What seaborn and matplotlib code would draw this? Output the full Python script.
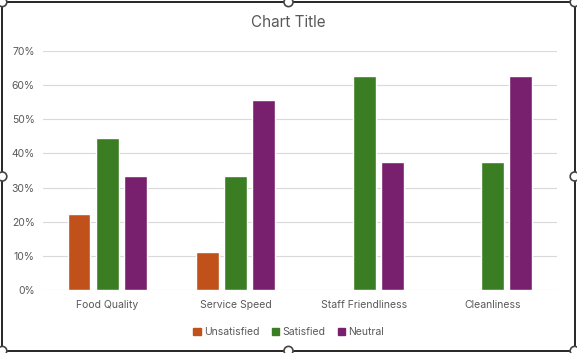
import numpy as np
import pandas as pd
import matplotlib.pyplot as plt
import seaborn as sns
from matplotlib.patches import Rectangle, Circle

categories = ['Food Quality', 'Service Speed', 'Staff Friendliness', 'Cleanliness']
unsatisfied = [0.222, 0.111, 0.0, 0.0]
satisfied = [0.444, 0.333, 0.625, 0.375]
neutral = [0.333, 0.556, 0.375, 0.625]
series = ['Unsatisfied', 'Satisfied', 'Neutral']
colors = ['#C0511A', '#3B7D23', '#78206E']

df = pd.DataFrame({
    'Category': categories * 3,
    'Series': [s for s in series for _ in categories],
    'Value': unsatisfied + satisfied + neutral,
})

sns.set_style('white')
plt.rcParams['font.family'] = ['Inter', 'DejaVu Sans']

fig = plt.figure(figsize=(5.77, 3.53), dpi=100)
ax = fig.add_axes([0.0745, 0.178, 0.8905, 0.678])

sns.barplot(data=df, x='Category', y='Value', hue='Series', palette=colors,
            width=0.66, gap=0.19, ax=ax, saturation=1, legend=False)

ax.set_ylim(0, 0.7)
ax.set_yticks(np.arange(0, 0.71, 0.1))
ax.set_yticklabels([f'{int(round(v * 100))}%' for v in np.arange(0, 0.71, 0.1)])
ax.yaxis.grid(True, color='#D9D9D9', linewidth=0.8)
ax.set_axisbelow(True)
for s in ax.spines.values():
    s.set_visible(False)
ax.tick_params(axis='both', length=0, labelsize=7.5, colors='#595959', pad=6)
ax.tick_params(axis='x', pad=7)
ax.set_xlabel('')
ax.set_ylabel('')
ax.set_xlim(-0.5, 3.5)

fig.text(0.5, 0.935, 'Chart Title', ha='center', va='center', fontsize=11, color='#595959')

handles = [Rectangle((0, 0), 1, 1, color=c) for c in colors]
fig.legend(handles, series, loc='center', bbox_to_anchor=(0.5, 0.06), ncol=3,
           frameon=False, fontsize=7.5, labelcolor='#595959', handlelength=0.7,
           handleheight=0.7, handletextpad=0.3, columnspacing=1.2)

# selection frame around the chart
fig.patches.append(Rectangle((0.004, 0.006), 0.992, 0.988, transform=fig.transFigure,
                             fill=False, edgecolor='black', linewidth=1.2))
for (hx, hy) in [(0.004, 0.994), (0.5, 0.994), (0.996, 0.994), (0.004, 0.5),
                 (0.996, 0.5), (0.004, 0.006), (0.5, 0.006), (0.996, 0.006)]:
    fig.patches.append(Circle((hx * 577, hy * 353), 4.5, transform=None,
                              facecolor='white', edgecolor='#444444', linewidth=1.2))

fig.savefig('out.png', dpi=100)
